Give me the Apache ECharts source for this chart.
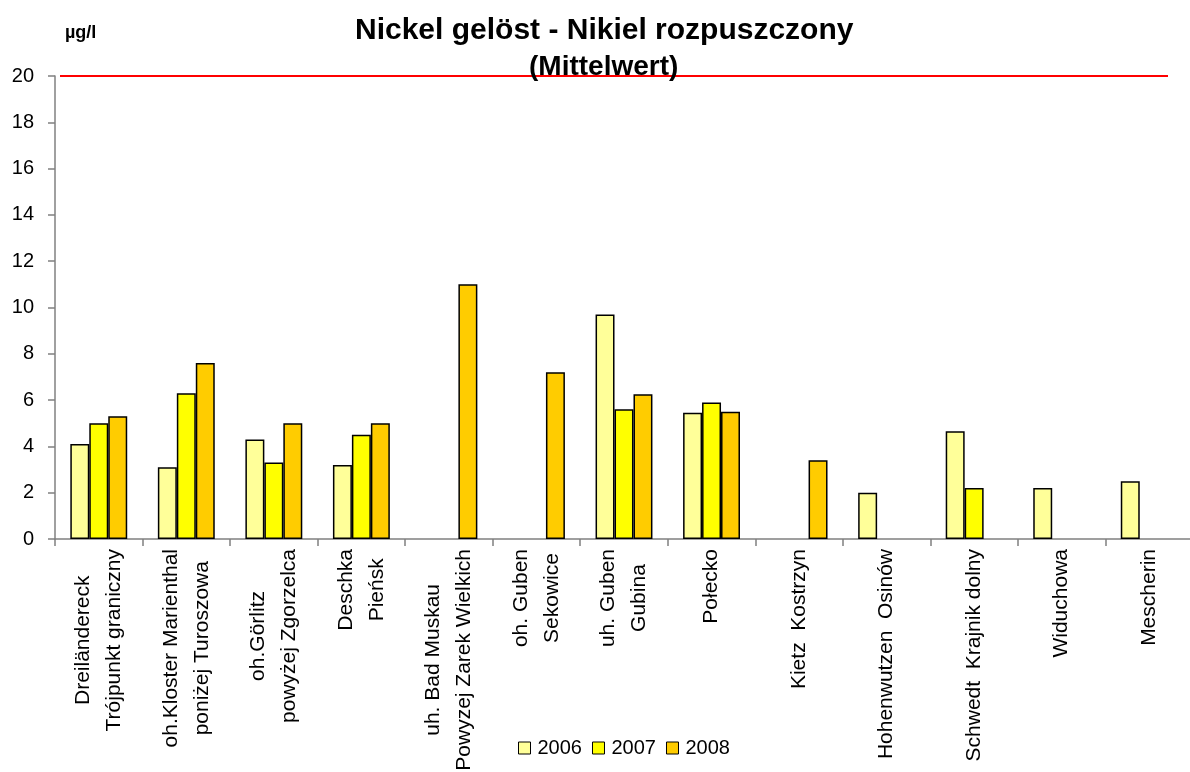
<!DOCTYPE html>
<html>
<head>
<meta charset="utf-8">
<title>Nickel gelöst - Nikiel rozpuszczony</title>
<script src="https://cdn.jsdelivr.net/npm/echarts@6/dist/echarts.min.js"></script>
<style>
  html, body { margin: 0; padding: 0; background: #fff; }
  #chart { width: 1190px; height: 772px; }
</style>
</head>
<body>
<div id="chart"></div>
<script>
// Monitoring stations along the Neisse / Oder border rivers
const stations = [
  'Dreiländereck\nTrójpunkt graniczny',
  'oh.Kloster Marienthal\nponiżej Turoszowa',
  'oh.Görlitz\npowyżej Zgorzelca',
  'Deschka\nPieńsk',
  'uh. Bad Muskau\nPowyzej Zarek Wielkich',
  'oh. Guben\nSekowice',
  'uh. Guben\nGubina',
  'Połecko',
  'Kietz  Kostrzyn',
  'Hohenwutzen  Osinów',
  'Schwedt  Krajnik dolny',
  'Widuchowa',
  'Mescherin'
];

const years = ['2006', '2007', '2008'];

// Annual mean of dissolved nickel, µg/l (null = no measurement)
const values2006 = [4.1, 3.1, 4.3, 3.2, null, null, 9.7, 5.45, null, 2.0, 4.65, 2.2, 2.5];
const values2007 = [5.0, 6.3, 3.3, 4.5, null, null, 5.6, 5.9, null, null, 2.2, null, null];
const values2008 = [5.3, 7.6, 5.0, 5.0, 11.0, 7.2, 6.25, 5.5, 3.4, null, null, null, null];

// Quality target drawn as a red line
const limitValue = 20;

const yTicks = { min: 0, max: 20, interval: 2 };

const titleText = 'Nickel gelöst - Nikiel rozpuszczony';
const subtitleText = '(Mittelwert)';

const colors = ['#FFFF99', '#FFFF00', '#FFCC00'];
const fontFamily = '"Liberation Sans", Arial, sans-serif';

// Headings are centred on this x position
const headingCenterX = 604;
const titlePadding = 5;

function textWidth(text, font) {
  const ctx = document.createElement('canvas').getContext('2d');
  ctx.font = font;
  return ctx.measureText(text).width;
}

function centredLeft(text, size) {
  const w = textWidth(text, 'bold ' + size + 'px ' + fontFamily);
  return Math.round(headingCenterX - w / 2 - titlePadding);
}

const seriesValues = [values2006, values2007, values2008];

const chart = echarts.init(document.getElementById('chart'), null, { renderer: 'canvas' });

const series = years.map((year, i) => {
  const s = {
    name: year,
    type: 'bar',
    data: seriesValues[i],
    barGap: '0%',
    barCategoryGap: '35%',
    itemStyle: { color: colors[i], borderColor: '#000', borderWidth: 1.5 },
    emphasis: { disabled: true },
    animation: false
  };
  if (i === years.length - 1) {
    s.markLine = {
      silent: true,
      symbol: ['none', 'none'],
      label: { show: false },
      lineStyle: { color: '#FF0000', width: 2, type: 'solid' },
      data: [[{ yAxis: limitValue, x: 60 }, { yAxis: limitValue, x: 1168 }]],
      animation: false
    };
  }
  return s;
});

const titleSize = 30;
const subtitleSize = 28;

chart.setOption({
  backgroundColor: '#ffffff',
  animation: false,
  textStyle: { fontFamily: fontFamily },
  title: [
    {
      text: titleText,
      left: centredLeft(titleText, titleSize),
      top: 11,
      padding: titlePadding,
      textStyle: { fontFamily: fontFamily, fontSize: titleSize, fontWeight: 'bold', color: '#000' }
    },
    {
      text: subtitleText,
      left: centredLeft(subtitleText, subtitleSize),
      top: 48,
      padding: titlePadding,
      textStyle: { fontFamily: fontFamily, fontSize: subtitleSize, fontWeight: 'bold', color: '#000' }
    }
  ],
  legend: {
    data: years,
    left: 513,
    top: 733,
    itemWidth: 12,
    itemHeight: 12,
    itemGap: 10,
    icon: 'rect',
    selectedMode: false,
    itemStyle: { borderColor: '#000', borderWidth: 1 },
    textStyle: { fontFamily: fontFamily, fontSize: 20, color: '#000', padding: [0, 0, 0, 2] }
  },
  grid: {
    left: 55,
    right: -3,
    top: 76,
    bottom: 233,
    containLabel: false,
    outerBoundsMode: 'none'
  },
  xAxis: {
    type: 'category',
    data: stations,
    axisLine: { lineStyle: { color: '#808080', width: 1.5 } },
    axisTick: { show: true, length: 7, lineStyle: { color: '#808080', width: 1.5 } },
    axisLabel: {
      rotate: 90,
      interval: 0,
      margin: 10,
      color: '#000',
      fontFamily: fontFamily,
      fontSize: 21,
      lineHeight: 31,
      formatter: (v) => v.split('\n').map((line) => '{c|' + line + '}').join('\n'),
      rich: {
        c: { align: 'center', fontFamily: fontFamily, fontSize: 21, lineHeight: 31, color: '#000' }
      }
    },
    splitLine: { show: false }
  },
  yAxis: {
    type: 'value',
    min: yTicks.min,
    max: yTicks.max,
    interval: yTicks.interval,
    name: 'µg/l',
    nameLocation: 'end',
    nameGap: 34,
    nameTextStyle: {
      fontFamily: fontFamily,
      fontSize: 18,
      fontWeight: 'bold',
      color: '#000',
      align: 'left',
      padding: [0, 0, 0, 10]
    },
    axisLine: { show: true, lineStyle: { color: '#808080', width: 1.5 } },
    axisTick: { show: true, length: 7, lineStyle: { color: '#808080', width: 1.5 } },
    axisLabel: { margin: 21, color: '#000', fontFamily: fontFamily, fontSize: 20 },
    splitLine: { show: false }
  },
  series: series
});
</script>
</body>
</html>
